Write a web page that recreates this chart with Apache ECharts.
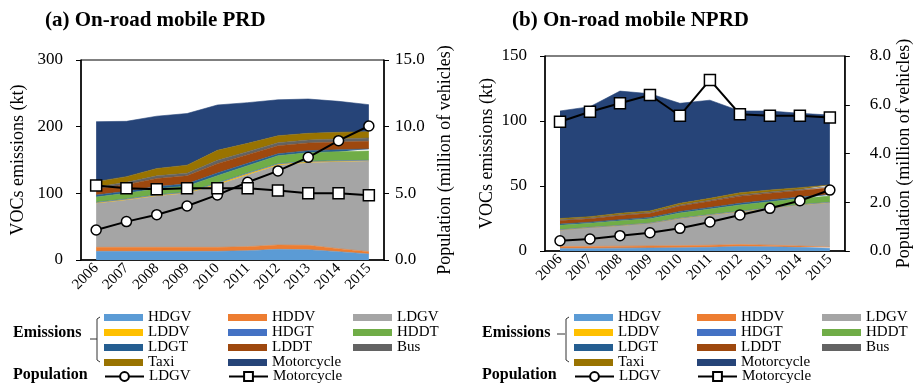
<!DOCTYPE html>
<html>
<head>
<meta charset="utf-8">
<script src="https://cdn.jsdelivr.net/npm/echarts@6/dist/echarts.min.js"></script>
<style>
html, body { margin: 0; padding: 0; background: #fff; }
#chart { width: 914px; height: 385px; }
</style>
</head>
<body>
<div id="chart"></div>
<script>
var years = ['2006', '2007', '2008', '2009', '2010', '2011', '2012', '2013', '2014', '2015'];
var vehicleTypes = ['HDGV', 'HDDV', 'LDGV', 'LDDV', 'HDGT', 'HDDT', 'LDGT', 'LDDT', 'Bus', 'Taxi', 'Motorcycle'];
var typeColors = ['#5B9BD5', '#ED7D31', '#A5A5A5', '#FFC000', '#4472C4', '#70AD47', '#255E91', '#9E480E', '#636363', '#997300', '#264478'];

// (a) PRD, VOCs emissions in kt
var prdHDGV = [13, 13, 13, 13, 13, 14, 16, 15.5, 12.5, 9];
var prdHDDV = [6, 6, 6, 6, 6, 6, 6.5, 6.5, 4.5, 3.5];
var prdLDGV = [66, 71, 77, 81, 93.5, 107.5, 119.5, 124, 130.5, 136];
var prdLDDV = [0.8, 0.8, 1, 1, 2, 2, 1.5, 1.2, 0.8, 0.5];
var prdHDGT = [0.7, 0.7, 0.7, 0.7, 1, 1, 0.8, 0.8, 0.7, 0.5];
var prdHDDT = [8, 8.5, 9, 9, 11, 11, 12, 13, 13.5, 14];
var prdLDGT = [3, 3, 3.5, 3.5, 4, 3.5, 3, 3, 3, 3];
var prdLDDT = [9, 10, 12, 12, 14, 13, 12, 11.5, 11.5, 11.5];
var prdBus = [3, 3.5, 4, 4, 5, 4.5, 4.5, 4.5, 4.5, 5];
var prdTaxi = [8, 8.5, 11, 12, 15, 12.5, 10.5, 10, 10, 9.5];
var prdMotorcycle = [90, 83, 78.5, 77.5, 68, 61, 54, 51.5, 46.5, 40.5];
// (a) PRD population, million vehicles
var prdPopLDGV = [2.25, 2.88, 3.4, 4.05, 4.88, 5.83, 6.68, 7.7, 8.95, 10.05];
var prdPopMotorcycle = [5.58, 5.38, 5.3, 5.38, 5.38, 5.38, 5.22, 5.0, 5.0, 4.85];

// (b) NPRD, VOCs emissions in kt
var nprdHDGV = [2.0, 2.0, 2.2, 2.3, 2.5, 2.8, 3.5, 3.2, 2.8, 2.2];
var nprdHDDV = [1.5, 1.5, 1.5, 1.6, 1.6, 1.6, 1.5, 1.3, 1.0, 0.8];
var nprdLDGV = [12.6, 14.5, 15.8, 17.4, 20.9, 23.3, 25.2, 28.3, 31.6, 34.2];
var nprdLDDV = [0.1, 0.1, 0.1, 0.1, 0.1, 0.1, 0.1, 0.1, 0.1, 0.1];
var nprdHDGT = [0.2, 0.1, 0.1, 0.1, 0.2, 0.2, 0.3, 0.2, 0.2, 0.2];
var nprdHDDT = [3.5, 3.2, 3.5, 3.4, 4.0, 4.3, 4.8, 4.8, 4.6, 4.8];
var nprdLDGT = [0.8, 0.8, 0.9, 0.9, 1.1, 1.2, 1.3, 1.3, 1.2, 1.2];
var nprdLDDT = [2.8, 2.7, 3.2, 3.3, 4.2, 4.8, 5.5, 5.3, 5.0, 5.2];
var nprdBus = [0.5, 0.5, 0.6, 0.6, 0.7, 0.8, 0.9, 0.9, 0.9, 0.9];
var nprdTaxi = [1.0, 1.0, 1.1, 1.1, 1.4, 1.4, 1.7, 1.5, 1.3, 1.2];
var nprdMotorcycle = [82.7, 84.6, 94, 90.2, 76.9, 75.5, 62.9, 60.8, 57.2, 53.8];
// (b) NPRD population, million vehicles
var nprdPopLDGV = [0.42, 0.49, 0.63, 0.75, 0.93, 1.19, 1.48, 1.75, 2.06, 2.5];
var nprdPopMotorcycle = [5.3, 5.71, 6.06, 6.4, 5.55, 7.02, 5.61, 5.55, 5.55, 5.48];

var prdEmissions = [prdHDGV, prdHDDV, prdLDGV, prdLDDV, prdHDGT, prdHDDT, prdLDGT, prdLDDT, prdBus, prdTaxi, prdMotorcycle];
var nprdEmissions = [nprdHDGV, nprdHDDV, nprdLDGV, nprdLDDV, nprdHDGT, nprdHDDT, nprdLDGT, nprdLDDT, nprdBus, nprdTaxi, nprdMotorcycle];

var serif = "'Liberation Serif', 'Times New Roman', serif";
var black = '#000';

function panelSeries(idx, emissions, popLDGV, popMoto) {
	var list = [];
	for (var i = 0; i < vehicleTypes.length; i++) {
		list.push({
			name: vehicleTypes[i],
			type: 'line',
			stack: 'em' + idx,
			xAxisIndex: idx,
			yAxisIndex: idx * 2,
			data: emissions[i],
			symbol: 'none',
			lineStyle: { width: 0.6, color: typeColors[i] },
			itemStyle: { color: typeColors[i] },
			areaStyle: { color: typeColors[i], opacity: 1 },
			z: 2
		});
	}
	list.push({
		name: 'LDGV (pop)',
		type: 'line',
		xAxisIndex: idx,
		yAxisIndex: idx * 2 + 1,
		data: popLDGV,
		symbol: 'circle',
		symbolSize: 10,
		lineStyle: { color: black, width: 2 },
		itemStyle: { color: '#fff', borderColor: black, borderWidth: 1.5 },
		z: 5
	});
	list.push({
		name: 'Motorcycle (pop)',
		type: 'line',
		xAxisIndex: idx,
		yAxisIndex: idx * 2 + 1,
		data: popMoto,
		symbol: 'rect',
		symbolSize: 11,
		lineStyle: { color: black, width: 2 },
		itemStyle: { color: '#fff', borderColor: black, borderWidth: 1.5 },
		z: 6
	});
	return list;
}

function yAxisPair(idx, max1, step1, max2, step2, gaps) {
	var common = {
		type: 'value',
		gridIndex: idx,
		min: 0,
		nameLocation: 'middle',
		nameRotate: 90,
		nameTextStyle: { fontFamily: serif, fontSize: 18, color: black },
		axisLine: { show: true, lineStyle: { color: black, width: 1.5 } },
		axisTick: { show: true, length: 5, lineStyle: { color: black } },
		splitLine: { show: false }
	};
	var left = echarts.util.merge({
		position: 'left',
		name: 'VOCs emissions (kt)',
		nameGap: gaps[0],
		max: max1,
		interval: step1,
		axisLabel: { margin: gaps[1], fontFamily: serif, fontSize: 17, color: black }
	}, common);
	var right = echarts.util.merge({
		position: 'right',
		name: 'Population (million of vehicles)',
		nameGap: gaps[2],
		max: max2,
		interval: step2,
		axisLabel: { margin: gaps[3], fontFamily: serif, fontSize: 17, color: black, formatter: function(v){ return v.toFixed(1); } }
	}, common);
	return [left, right];
}

function xAxis(idx) {
	return {
		type: 'category',
		gridIndex: idx,
		data: years,
		boundaryGap: true,
		axisLine: { lineStyle: { color: black, width: 1.5 } },
		axisTick: { show: false },
		axisLabel: { rotate: 45, margin: 6, fontFamily: serif, fontSize: 15, color: black, interval: 0 }
	};
}

function legends(cols, top, popX) {
	var out = [];
	var columns = [
		['HDGV', 'LDDV', 'LDGT', 'Taxi'],
		['HDDV', 'HDGT', 'LDDT', 'Motorcycle'],
		['LDGV', 'HDDT', 'Bus']
	];
	for (var c = 0; c < columns.length; c++) {
		out.push({
			orient: 'vertical',
			left: cols[c],
			top: top,
			padding: 0,
			itemWidth: 39,
			itemHeight: 7,
			itemGap: 0,
			icon: 'rect',
			selectedMode: false,
			data: columns[c],
			textStyle: { fontFamily: serif, fontSize: 15, lineHeight: 15, color: black, padding: [0, 0, 0, 0] }
		});
	}
	var popNames = ['LDGV (pop)', 'Motorcycle (pop)'];
	for (var p = 0; p < 2; p++) {
		out.push({
			orient: 'horizontal',
			left: popX[p],
			top: top + 59,
			padding: 0,
			itemWidth: 39,
			itemHeight: 11,
			selectedMode: false,
			data: [popNames[p]],
			formatter: function(n){ return n.replace(' (pop)', ''); },
			textStyle: { fontFamily: serif, fontSize: 15, color: black }
		});
	}
	return out;
}

function bracket(x, yTop, yBot) {
	return {
		type: 'polyline',
		shape: { points: [[x + 3, yTop], [x, yTop + 2], [x, yBot - 2], [x + 3, yBot]] },
		style: { stroke: '#333', lineWidth: 1, fill: null }
	};
}

var yA = yAxisPair(0, 300, 100, 15, 5, [54, 18, 52, 11]);
var yB = yAxisPair(1, 150, 50, 8, 2, [49, 18, 50, 25]);

var option = {
	animation: false,
	backgroundColor: '#fff',
	title: [
		{ text: '(a) On-road mobile PRD', left: 45, top: 10, padding: 0, textStyle: { fontFamily: serif, fontWeight: 'bold', fontSize: 21, color: black } },
		{ text: '(b) On-road mobile NPRD', left: 512, top: 10, padding: 0, textStyle: { fontFamily: serif, fontWeight: 'bold', fontSize: 21, color: black } }
	],
	grid: [
		{ left: 81, top: 60, width: 303, height: 200, show: true, borderColor: black, borderWidth: 1, backgroundColor: 'transparent' },
		{ left: 545, top: 56, width: 301, height: 195, show: true, borderColor: black, borderWidth: 1, backgroundColor: 'transparent' }
	],
	xAxis: [xAxis(0), xAxis(1)],
	yAxis: [yA[0], yA[1], yB[0], yB[1]],
	legend: legends([104, 228, 353], 310, [104, 228]).concat(legends([574, 697, 822], 310, [574, 697])),
	graphic: [
		{ type: 'text', left: 13, top: 325, style: { text: 'Emissions', font: 'bold 16px ' + serif, fill: black } },
		{ type: 'text', left: 13, top: 367, style: { text: 'Population', font: 'bold 16px ' + serif, fill: black } },
		bracket(97, 317, 362),
		{ type: 'line', shape: { x1: 90, y1: 339, x2: 97, y2: 339 }, style: { stroke: '#333', lineWidth: 1 } },
		{ type: 'text', left: 482, top: 325, style: { text: 'Emissions', font: 'bold 16px ' + serif, fill: black } },
		{ type: 'text', left: 482, top: 367, style: { text: 'Population', font: 'bold 16px ' + serif, fill: black } },
		bracket(566, 317, 362),
		{ type: 'line', shape: { x1: 557, y1: 334, x2: 565, y2: 334 }, style: { stroke: '#333', lineWidth: 1 } }
	],
	series: panelSeries(0, prdEmissions, prdPopLDGV, prdPopMotorcycle)
		.concat(panelSeries(1, nprdEmissions, nprdPopLDGV, nprdPopMotorcycle))
};

var chart = echarts.init(document.getElementById('chart'), null, { renderer: 'canvas' });
chart.setOption(option);
</script>
</body>
</html>
